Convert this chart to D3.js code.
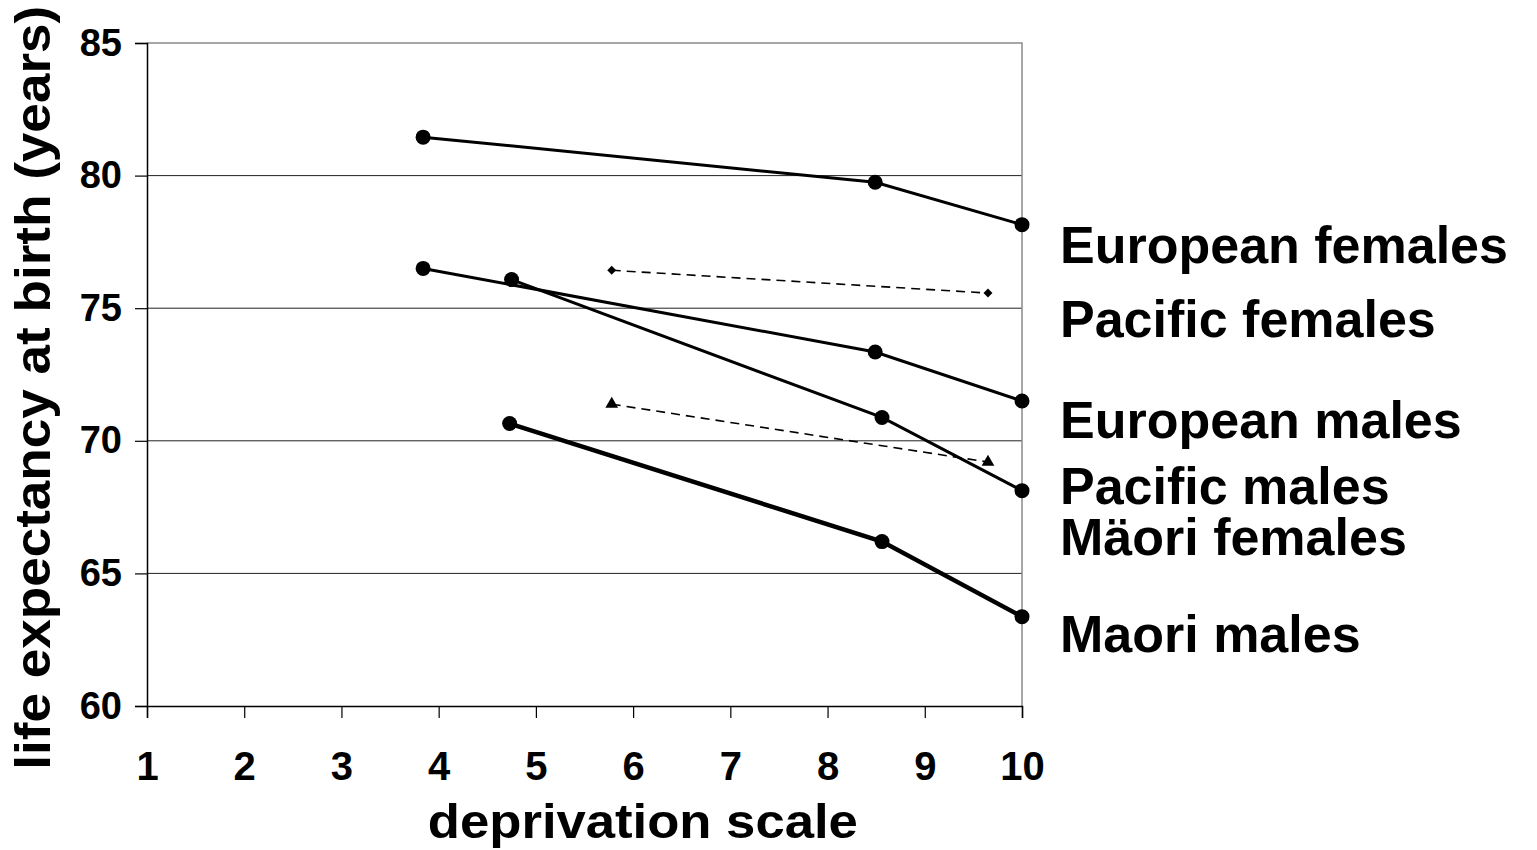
<!DOCTYPE html>
<html>
<head>
<meta charset="utf-8">
<script src="https://cdn.jsdelivr.net/npm/d3@7"></script>
<style>
  body { margin: 0; background: #fff; }
  text { font-family: "Liberation Sans", Arial, sans-serif; font-weight: bold; fill: #000; }
</style>
</head>
<body>
<div id="chart-area"></div>
<script>
// data
var eurFemX = [3.84, 8.49, 10];
var eurFemY = [81.45, 79.75, 78.15];
var eurMaleX = [3.84, 8.49, 10];
var eurMaleY = [76.5, 73.35, 71.5];
var pacMaleX = [4.75, 8.56, 10];
var pacMaleY = [76.08, 70.88, 68.12];
var maoMaleX = [4.73, 8.56, 10];
var maoMaleY = [70.65, 66.2, 63.37];
var pacFemX = [5.78, 9.65];
var pacFemY = [76.43, 75.57];
var maoFemX = [5.78, 9.65];
var maoFemY = [71.38, 69.2];

var xTicks = [1, 2, 3, 4, 5, 6, 7, 8, 9, 10];
var yTicks = [60, 65, 70, 75, 80, 85];

// label text and the y value (years) each label's baseline sits at
var labelText = ["European females", "Pacific females", "European males", "Pacific males", "Mäori females", "Maori males"];
var labelY = [76.7, 73.9, 70.1, 67.6, 65.7, 62.05];

const svgWidth = 1537;
const svgHeight = 850;
var margin = {left:147, right:515, top:43, bottom:144};
var chartWidth = svgWidth - margin.left - margin.right,
    chartHeight = svgHeight - margin.top - margin.bottom;

var svg = d3.select("#chart-area")
    .append("svg")
        .attr("width", svgWidth)
        .attr("height", svgHeight)
    .append("g")
    .attr("transform", "translate("+margin.left+","+margin.top+")");

var x = d3.scaleLinear().domain([1, 10]).range([0, chartWidth]);
var y = d3.scaleLinear().domain([60, 85]).range([chartHeight, 0]);

// gridlines
svg.selectAll(".grid")
    .data(yTicks.filter(function(d){ return d > 60 && d < 85; }))
    .enter().append("line")
    .attr("x1", 0).attr("x2", chartWidth)
    .attr("y1", function(d){ return y(d); })
    .attr("y2", function(d){ return y(d); })
    .attr("stroke", "#222").attr("stroke-width", 1);

// top + right border (grey)
svg.append("path")
    .attr("d", "M0," + y(85) + "H" + chartWidth + "V" + chartHeight)
    .attr("fill", "none").attr("stroke", "#8a8a8a").attr("stroke-width", 1.5);

// axes
var xAxisCall = d3.axisBottom(x).tickValues(xTicks).tickSize(12).tickPadding(34).tickFormat(d3.format("d"));
var xg = svg.append("g")
    .attr("transform", "translate(0,"+chartHeight+")")
    .call(xAxisCall);
xg.select(".domain").attr("stroke", "#000").attr("stroke-width", 1.5);
xg.selectAll(".tick line").attr("stroke", "#000").attr("stroke-width", 1.2);
xg.selectAll("text").attr("font-size", "40px").attr("font-family", "Liberation Sans, Arial, sans-serif").attr("font-weight", "bold").attr("fill", "#000");

var yAxisCall = d3.axisLeft(y).tickValues(yTicks).tickSize(12).tickPadding(13);
var yg = svg.append("g").call(yAxisCall);
yg.select(".domain").attr("stroke", "#000").attr("stroke-width", 1.5);
yg.selectAll(".tick line").attr("stroke", "#000").attr("stroke-width", 1.2);
yg.selectAll("text").attr("font-size", "38px").attr("font-family", "Liberation Sans, Arial, sans-serif").attr("font-weight", "bold").attr("fill", "#000");

// x label
svg.append("text")
    .attr("x", x(6.1))
    .attr("y", chartHeight + 132)
    .attr("font-size", "48px")
    .attr("text-anchor", "middle")
    .attr("textLength", 430)
    .attr("lengthAdjust", "spacingAndGlyphs")
    .text("deprivation scale");

// y label
svg.append("text")
    .attr("x", -(y(72.0)))
    .attr("y", -97)
    .attr("font-size", "50px")
    .attr("text-anchor", "middle")
    .attr("textLength", 764)
    .attr("lengthAdjust", "spacingAndGlyphs")
    .attr("transform", "rotate(-90)")
    .text("life expectancy at birth (years)");

function zip(xs, ys){ return xs.map(function(v, i){ return [v, ys[i]]; }); }

var line = d3.line().x(function(d){ return x(d[0]); }).y(function(d){ return y(d[1]); });

var solid = [
    {pts: zip(eurFemX, eurFemY), w: 3},
    {pts: zip(eurMaleX, eurMaleY), w: 3},
    {pts: zip(pacMaleX, pacMaleY), w: 3},
    {pts: zip(maoMaleX, maoMaleY), w: 4.5}
];
var dashed = [
    {pts: zip(pacFemX, pacFemY), sym: d3.symbolSquare, size: 40, rot: 45},
    {pts: zip(maoFemX, maoFemY), sym: d3.symbolTriangle, size: 70, rot: 0}
];

dashed.forEach(function(s){
    svg.append("path")
        .attr("d", line(s.pts))
        .attr("fill", "none").attr("stroke", "#000")
        .attr("stroke-width", 1.6).attr("stroke-dasharray", "9,6");
    svg.selectAll(null).data(s.pts).enter().append("path")
        .attr("d", d3.symbol().type(s.sym).size(s.size))
        .attr("transform", function(d){ return "translate(" + x(d[0]) + "," + y(d[1]) + ") rotate(" + s.rot + ")"; })
        .attr("fill", "#000");
});

solid.forEach(function(s){
    svg.append("path")
        .attr("d", line(s.pts))
        .attr("fill", "none").attr("stroke", "#000")
        .attr("stroke-width", s.w);
    svg.selectAll(null).data(s.pts).enter().append("circle")
        .attr("cx", function(d){ return x(d[0]); })
        .attr("cy", function(d){ return y(d[1]); })
        .attr("r", 7.5)
        .attr("fill", "#000");
});

// series labels at right
svg.selectAll(".lab")
    .data(labelText)
    .enter().append("text")
    .attr("x", chartWidth + 38)
    .attr("y", function(d, i){ return y(labelY[i]); })
    .attr("font-size", "52px")
    .text(function(d){ return d; });
</script>
</body>
</html>
